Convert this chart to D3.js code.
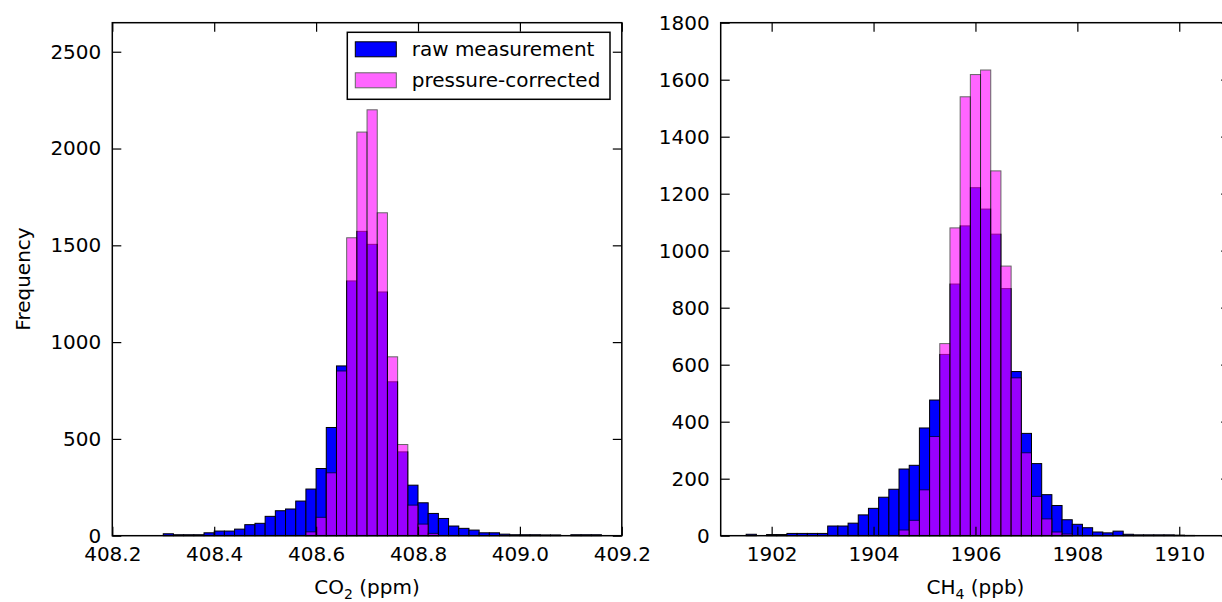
<!DOCTYPE html>
<meta charset="utf-8">
<style>
body { margin: 0; background: #fff; }
svg text { font-family: "DejaVu Sans", sans-serif; font-size: 20px; fill: #000; }
.frame { fill: none; stroke: #000; stroke-width: 1.5; }
.axis line { stroke: #000; stroke-width: 1.2; }
.axis path { display: none; }
.raw { fill: #0000ff; stroke: #000; stroke-width: 1; }
.corr { fill: #ff00ff; stroke: #000; stroke-width: 1; opacity: 0.6; }
.legend-box { fill: #fff; stroke: #000; stroke-width: 1.5; }
</style>
<body>
<div id="chart"></div>
<script src="https://d3js.org/d3.v7.min.js"></script>
<script>

// CO2 histogram, bins of 0.02 ppm starting at 408.30
var co2BinStart = 408.30, co2BinWidth = 0.02;
var co2Raw = [10, 5, 5, 5, 15, 24, 24, 34, 57, 64, 100, 129, 138, 179, 241, 347, 559, 877,
              1316, 1572, 1505, 1259, 795, 433, 261, 170, 115, 89, 50, 38, 29, 15, 15, 8,
              5, 5, 5, 4, 4, 0, 5, 5, 5];
var co2Corrected = [0, 0, 0, 0, 0, 0, 0, 0, 0, 0, 0, 0, 0, 0, 20, 95, 325, 851,
                    1539, 2085, 2200, 1668, 924, 471, 158, 60, 12, 0, 0, 0, 0, 0, 0, 0,
                    0, 0, 0, 0, 0, 0, 0, 0, 0];
var co2XTicks = [408.2, 408.4, 408.6, 408.8, 409.0, 409.2];
var co2YTicks = [0, 500, 1000, 1500, 2000, 2500];

// CH4 histogram, bins of 0.2 ppb starting at 1901.5
var ch4BinStart = 1901.5, ch4BinWidth = 0.2;
var ch4Raw = [5, 0, 4, 4, 8, 8, 8, 8, 34, 34, 44, 73, 96, 135, 163, 234, 247, 378, 476,
              636, 883, 1087, 1221, 1146, 1058, 867, 576, 359, 253, 144, 106, 56, 40, 28,
              13, 10, 16, 5, 3, 3, 3, 3, 2, 1];
var ch4Corrected = [0, 0, 0, 0, 0, 0, 0, 0, 0, 0, 0, 0, 0, 0, 0, 20, 54, 161, 348,
                    674, 1080, 1540, 1618, 1634, 1280, 946, 554, 291, 138, 59, 13, 6, 0, 0,
                    0, 0, 0, 0, 0, 0, 0, 0, 0, 0];
var ch4XTicks = [1902, 1904, 1906, 1908, 1910];
var ch4YTicks = [0, 200, 400, 600, 800, 1000, 1200, 1400, 1600, 1800];

var seriesNames = ["raw measurement", "pressure-corrected"];

var svg = d3.select("#chart").append("svg")
    .attr("width", 1222)
    .attr("height", 602);

function toBins(start, width, counts) {
    return counts.map(function(c, i) {
        return {x0: start + i * width, x1: start + (i + 1) * width, n: c};
    }).filter(d => d.n > 0);
}

function panel(o) {
    var x = d3.scaleLinear().domain(o.xDomain).range([o.left, o.right]);
    var y = d3.scaleLinear().domain(o.yDomain).range([o.bottom, o.top]);
    var g = svg.append("g");

    g.selectAll(".raw")
        .data(toBins(o.start, o.width, o.raw))
        .enter().append("rect")
        .attr("class", "raw")
        .attr("x", d => x(d.x0))
        .attr("width", d => x(d.x1) - x(d.x0))
        .attr("y", d => y(d.n))
        .attr("height", d => y(0) - y(d.n));

    g.selectAll(".corr")
        .data(toBins(o.start, o.width, o.corr))
        .enter().append("rect")
        .attr("class", "corr")
        .attr("x", d => x(d.x0))
        .attr("width", d => x(d.x1) - x(d.x0))
        .attr("y", d => y(d.n))
        .attr("height", d => y(0) - y(d.n));

    // ticks on all four sides, pointing inward
    var tk = 9;
    g.append("g").attr("class", "axis")
        .attr("transform", "translate(0," + o.bottom + ")")
        .call(d3.axisBottom(x).tickValues(o.xTicks).tickSize(-tk).tickPadding(11).tickFormat(o.xFormat));
    g.append("g").attr("class", "axis")
        .attr("transform", "translate(0," + o.top + ")")
        .call(d3.axisTop(x).tickValues(o.xTicks).tickSize(-tk).tickFormat(""));
    g.append("g").attr("class", "axis")
        .attr("transform", "translate(" + o.left + ",0)")
        .call(d3.axisLeft(y).tickValues(o.yTicks).tickSize(-tk).tickPadding(11).tickFormat(d3.format("d")));
    g.append("g").attr("class", "axis")
        .attr("transform", "translate(" + o.right + ",0)")
        .call(d3.axisRight(y).tickValues(o.yTicks).tickSize(-tk).tickFormat(""));

    g.selectAll(".axis text").attr("fill", "#000").style("font-size", "20px");

    g.append("rect")
        .attr("class", "frame")
        .attr("x", o.left).attr("y", o.top)
        .attr("width", o.right - o.left)
        .attr("height", o.bottom - o.top);

    // x axis label with subscript
    var lab = g.append("text")
        .attr("x", (o.left + o.right) / 2)
        .attr("y", 594)
        .attr("text-anchor", "middle");
    lab.append("tspan").text(o.label[0]);
    lab.append("tspan").attr("dy", 5).style("font-size", "14px").text(o.label[1]);
    lab.append("tspan").attr("dy", -5).text(o.label[2]);

    return g;
}

var left = panel({
    left: 112.3, right: 621.8, top: 22.7, bottom: 535.7,
    xDomain: [408.2, 409.2], yDomain: [0, 2650],
    start: co2BinStart, width: co2BinWidth, raw: co2Raw, corr: co2Corrected,
    xTicks: co2XTicks, yTicks: co2YTicks, xFormat: d3.format(".1f"),
    label: ["CO", "2", " (ppm)"]
});

panel({
    left: 720.7, right: 1230.2, top: 22.7, bottom: 535.7,
    xDomain: [1901, 1911], yDomain: [0, 1800],
    start: ch4BinStart, width: ch4BinWidth, raw: ch4Raw, corr: ch4Corrected,
    xTicks: ch4XTicks, yTicks: ch4YTicks, xFormat: d3.format("d"),
    label: ["CH", "4", " (ppb)"]
});

svg.append("text")
    .attr("transform", "translate(29.6,279) rotate(-90)")
    .attr("text-anchor", "middle")
    .text("Frequency");

//////////////// legend ////////////////
var legend = left.append("g")
    .attr("transform", "translate(347.3,32.3)");

legend.append("rect")
    .attr("class", "legend-box")
    .attr("width", 262.7)
    .attr("height", 67);

legend.selectAll(".swatch")
    .data(seriesNames)
    .enter().append("rect")
    .attr("class", (d, i) => i == 0 ? "raw" : "corr")
    .attr("x", 8)
    .attr("y", (d, i) => 9.5 + i * 31)
    .attr("width", 41)
    .attr("height", 15);

legend.selectAll(".label")
    .data(seriesNames)
    .enter().append("text")
    .attr("x", 64.4)
    .attr("y", (d, i) => 23.5 + i * 31)
    .text(d => d);

</script>
